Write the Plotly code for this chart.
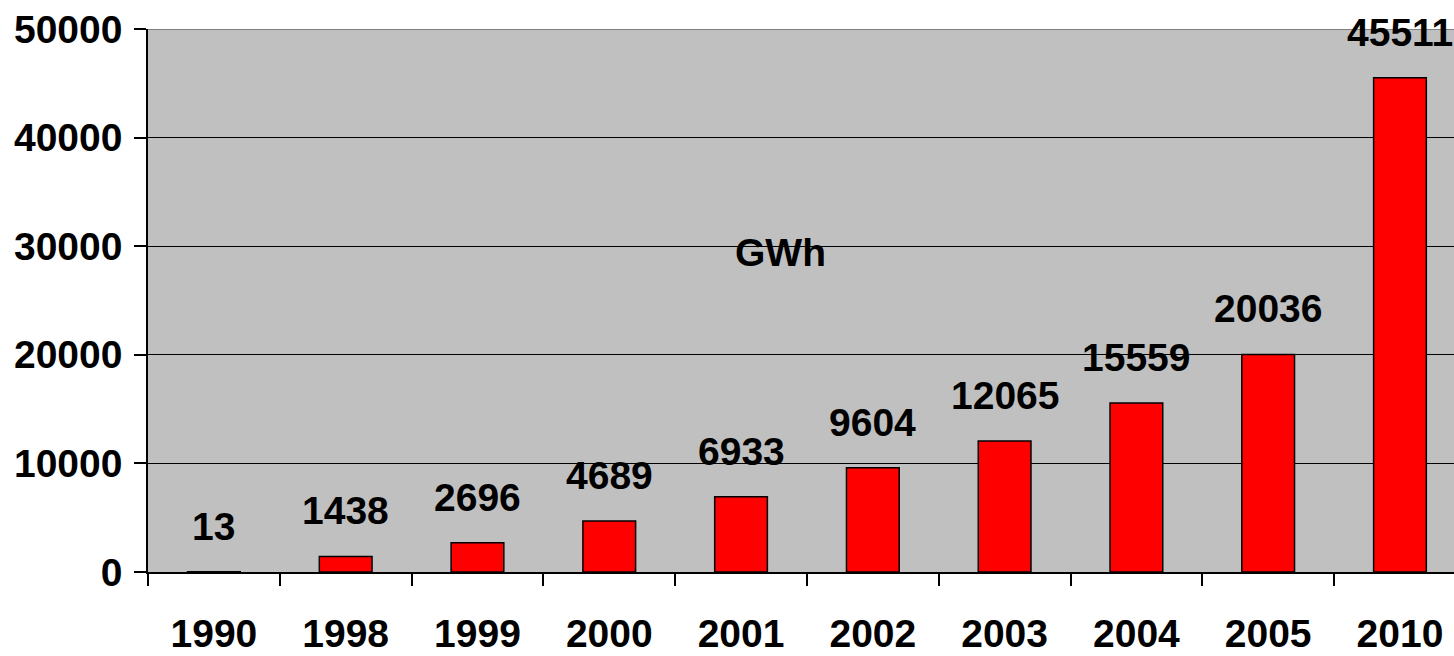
import plotly.graph_objects as go

years = ["1990", "1998", "1999", "2000", "2001", "2002", "2003", "2004", "2005", "2010"]
values = [13, 1438, 2696, 4689, 6933, 9604, 12065, 15559, 20036, 45511]
y_ticks = [0, 10000, 20000, 30000, 40000, 50000]
unit_label = "GWh"

FONT = "Liberation Sans, Arial, sans-serif"
FS = 39

fig = go.Figure()
fig.add_trace(go.Bar(
    x=list(range(len(years))), y=values,
    marker=dict(color="#FF0000", line=dict(color="#000000", width=1.5)),
    width=0.4,
    hoverinfo="skip",
))

for i, v in enumerate(values):
    fig.add_annotation(
        x=i, y=v, xref="x", yref="y", text=str(v), showarrow=False,
        yanchor="bottom", yshift=22,
        font=dict(family=FONT, size=FS, color="#000000", weight="bold"),
    )

fig.add_annotation(
    x=4.3, y=29400, xref="x", yref="y", text=unit_label, showarrow=False,
    font=dict(family=FONT, size=FS, color="#000000", weight="bold"),
)

fig.add_shape(type="line", xref="paper", yref="y", x0=0, x1=1, y0=50000, y1=50000,
              line=dict(color="#808080", width=2))

fig.update_layout(
    width=1454, height=656,
    margin=dict(l=148, r=0, t=29, b=84, pad=0, autoexpand=False),
    paper_bgcolor="#FFFFFF",
    plot_bgcolor="#C0C0C0",
    showlegend=False,
)
fig.update_xaxes(
    range=[-0.5, 9.41], automargin=False,
    tickvals=list(range(len(years))), ticktext=years,
    ticks="", showgrid=False, showline=True, linecolor="#000000", linewidth=1.5,
    zeroline=False,
    tickfont=dict(family=FONT, size=FS, color="#000000", weight="bold"),
    ticklabelstandoff=26,
)
# boundary ticks on the category axis
fig.add_trace(go.Scatter(x=[0], y=[0], xaxis="x2", mode="markers",
                         marker=dict(opacity=0), hoverinfo="skip", showlegend=False))
fig.update_layout(xaxis2=dict(
    overlaying="x", side="bottom", range=[-0.5, 9.41], automargin=False,
    tickvals=[i - 0.5 for i in range(len(years))], showticklabels=False,
    ticks="outside", ticklen=13, tickwidth=1.5, tickcolor="#000000",
    showgrid=False, zeroline=False, showline=False,
))
fig.update_yaxes(
    range=[0, 50000], tickvals=y_ticks, ticktext=[str(t) for t in y_ticks],
    automargin=False,
    ticks="outside", ticklen=12, tickwidth=1.5, tickcolor="#000000",
    showgrid=True, gridcolor="#000000", gridwidth=1,
    showline=True, linecolor="#000000", linewidth=1.5,
    zeroline=False,
    tickfont=dict(family=FONT, size=FS, color="#000000", weight="bold"),
    ticklabelstandoff=4,
)

fig.write_html("out.html")
